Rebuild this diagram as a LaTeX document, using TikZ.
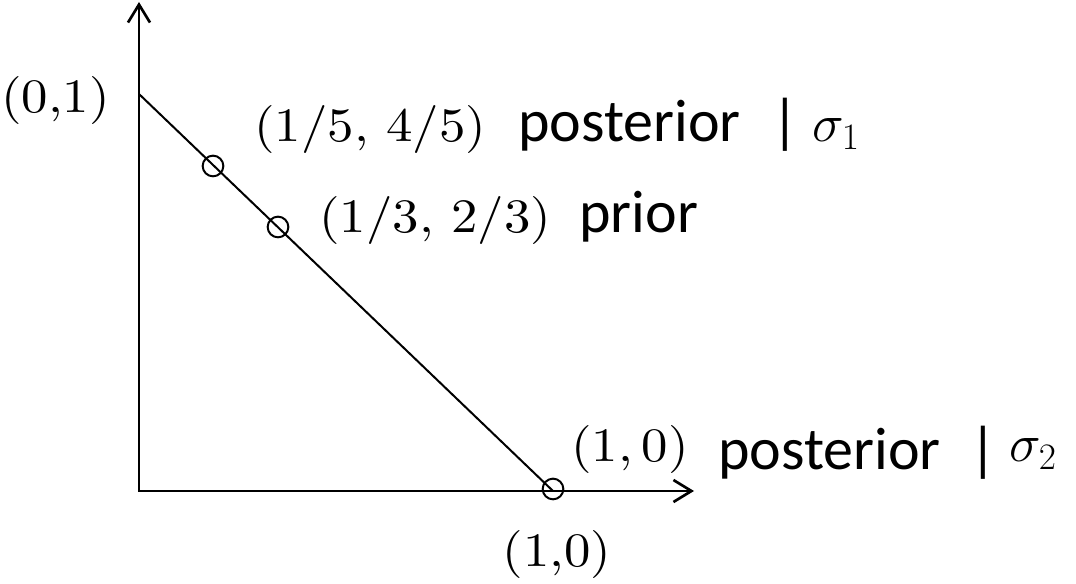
\RequirePackage{fix-cm}
\documentclass[tikz,border=0pt]{standalone}
\usepackage{fontspec}
\usepackage{graphicx}
\usetikzlibrary{arrows.meta}
\newfontfamily\carlito{Carlito}
\newfontfamily\lmten{lmroman10-regular.otf}
\newcommand{\serifbig}{\lmten\fontsize{36}{42}\selectfont}
\newcommand{\wide}[1]{\scalebox{1.1}[1]{#1}}
\tikzset{
  axis/.style={line width=2pt, {Straight Barb[length=13.5pt,width=16.5pt]}-{Straight Barb[length=13.5pt,width=16.5pt]}},
  diag/.style={line width=1.5pt},
  ptmark/.style={circle, draw, line width=1.5pt, minimum size=15.5pt, inner sep=0pt, fill=none},
  mathlbl/.style={inner sep=0pt, anchor=base west, font=\serifbig},
  sigmalbl/.style={inner sep=0pt, anchor=base west, font=\fontsize{40}{46}\selectfont},
  sanslbl/.style={inner sep=0pt, anchor=base west, font=\carlito\fontsize{45}{50}\selectfont},
}
\begin{document}
\begin{tikzpicture}[x=0.75pt, y=-0.75pt]
\useasboundingbox (0,0) rectangle (1076,584);
% axes
\coordinate (O) at (139,491);
\coordinate (Ytop) at (139,2);
\coordinate (Xend) at (694,491);
\draw[axis] (Ytop) -- (O) -- (Xend);
% diagonal
\coordinate (A) at (139,94);
\coordinate (B) at (553,491);
\draw[diag] (A) -- (B);
% points
\node[ptmark] (p1) at (213,166) {};
\node[ptmark] (p2) at (278,227) {};
\node[ptmark] (p3) at (553,489) {};
% labels
\node[mathlbl] (l01) at (1,113) {\wide{(0,1)}};
\node[mathlbl, anchor=base] (l10b) at (557,567) {\wide{(1,0)}};
\node[mathlbl] (l15) at (254,142) {\wide{(1/5, 4/5)}};
\node[sanslbl] (post1) at (518,142) {posterior};
\node[sanslbl, anchor=base] (bar1) at (785,142) {|};
\node[sigmalbl] (s1) at (812,142) {$\sigma_1$};
\node[mathlbl] (l13) at (319,233) {\wide{(1/3, 2/3)}};
\node[sanslbl] (prior) at (579,233) {prior};
\node[mathlbl] (l10) at (571,462) {\wide{(1,\,0)}};
\node[sanslbl] (post2) at (718,470) {posterior};
\node[sanslbl, anchor=base] (bar2) at (983,470) {|};
\node[sigmalbl] (s2) at (1009,462) {$\sigma_2$};
\end{tikzpicture}
\end{document}
